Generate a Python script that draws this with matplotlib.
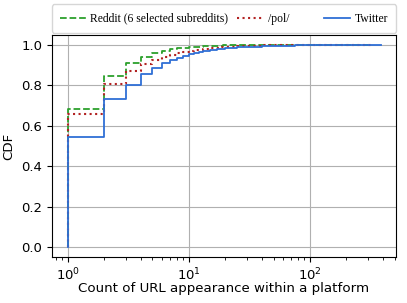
import matplotlib
matplotlib.use("Agg")
import matplotlib.pyplot as plt

counts_reddit = [1, 2, 3, 4, 5, 6, 7, 8, 9, 10, 11, 12, 13, 14, 15, 16, 17, 18, 19, 20, 25, 30, 40, 50, 100, 300]
cdf_reddit = [0.685, 0.847, 0.913, 0.942, 0.962, 0.972, 0.979, 0.984, 0.987, 0.990, 0.992, 0.993, 0.994,
              0.995, 0.996, 0.9965, 0.997, 0.9975, 0.998, 0.998, 0.999, 0.9993, 0.9996, 0.9998, 0.9999, 1.0]

counts_pol = [1, 2, 3, 4, 5, 6, 7, 8, 9, 10, 11, 12, 13, 14, 15, 16, 17, 18, 19, 20, 25, 30, 40, 50, 100, 330]
cdf_pol = [0.657, 0.808, 0.873, 0.906, 0.927, 0.941, 0.952, 0.960, 0.966, 0.971, 0.975, 0.978, 0.981,
           0.983, 0.985, 0.987, 0.988, 0.989, 0.990, 0.991, 0.994, 0.996, 0.998, 0.999, 0.9997, 1.0]

counts_twitter = [1, 2, 3, 4, 5, 6, 7, 8, 9, 10, 11, 12, 13, 14, 15, 16, 17, 18, 19, 20, 25, 30, 40, 50, 75, 100, 200, 384]
cdf_twitter = [0.543, 0.732, 0.800, 0.857, 0.885, 0.910, 0.925, 0.938, 0.948, 0.955, 0.961, 0.966, 0.970,
               0.973, 0.976, 0.978, 0.980, 0.982, 0.983, 0.984, 0.989, 0.992, 0.995, 0.997, 0.998, 0.999, 0.9997, 1.0]

labels = ["Reddit (6 selected subreddits)", "/pol/", "Twitter"]

fig = plt.figure(figsize=(4.07, 3.03), dpi=100)
ax = fig.add_axes([52/407, 1 - 257/303, (396-52)/407, (257-35)/303])

ax.step([counts_reddit[0]] + counts_reddit, [0] + cdf_reddit, where="post",
        color="#2ca02c", ls="--", lw=1.3, label=labels[0])
ax.step([counts_pol[0]] + counts_pol, [0] + cdf_pol, where="post",
        color="#b22222", ls=":", lw=1.5, label=labels[1] + "\u00a0" * 9)
ax.step([counts_twitter[0]] + counts_twitter, [0] + cdf_twitter, where="post",
        color="#2f6fd6", ls="-", lw=1.3, label=labels[2])

ax.set_xscale("log")
ax.set_xlim(0.74, 513)
ax.set_ylim(-0.05, 1.05)
ax.set_yticks([0.0, 0.2, 0.4, 0.6, 0.8, 1.0])
ax.grid(True, color="#b0b0b0", lw=0.8)
ax.tick_params(labelsize=9.5)
ax.set_xlabel("Count of URL appearance within a platform", fontsize=9.6, labelpad=-1)
ax.set_ylabel("CDF", fontsize=9.6)

ax.legend(bbox_to_anchor=(0, 1.01, 1, 0.102), loc="lower left", ncol=3, mode="expand",
          borderaxespad=0, prop={"family": "Liberation Serif", "size": 8.4},
          handlelength=2.2, handletextpad=0.4, columnspacing=0.8, borderpad=0.7)

fig.savefig("out.png", dpi=100)
